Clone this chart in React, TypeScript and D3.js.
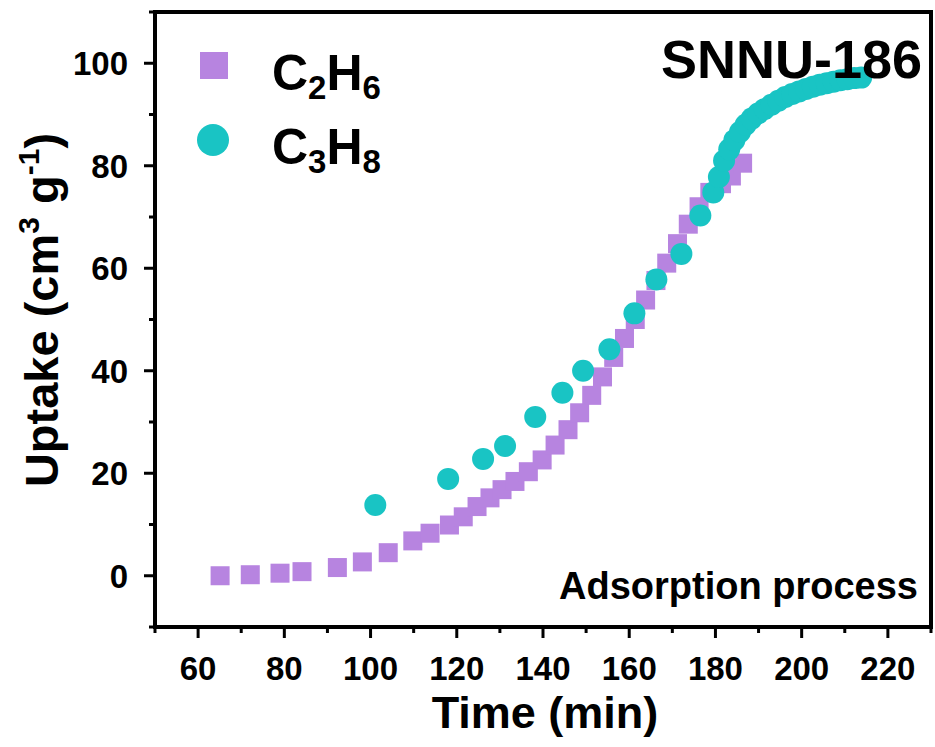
import React from "react";
import * as d3 from "d3";

// Adsorption uptake vs. time for SNNU-186
const c2h6Time = [65.1, 72.1, 79.0, 84.1, 92.3, 98.1, 104.1, 109.8, 113.8, 118.3, 121.5, 124.7, 127.7, 130.5, 133.5, 136.6, 139.8, 142.8, 145.8, 148.5, 151.3, 153.8, 156.4, 158.9, 161.4, 163.8, 166.2, 168.7, 171.2, 173.7, 176.2, 178.7, 181.4, 183.7, 186.3];
const c2h6Uptake = [0.0, 0.2, 0.5, 0.8, 1.6, 2.7, 4.5, 6.8, 8.3, 9.9, 11.5, 13.5, 15.2, 16.8, 18.4, 20.3, 22.6, 25.5, 28.5, 31.8, 35.2, 38.8, 42.6, 46.3, 50.0, 53.8, 57.6, 61.0, 64.8, 68.6, 72.0, 74.8, 76.5, 78.0, 80.5];

const c3h8Time = [101.1, 118.0, 126.1, 131.2, 138.2, 144.5, 149.3, 155.4, 161.2, 166.3, 172.1, 176.5, 179.5, 180.8, 182.0, 183.2, 184.4, 185.7, 187.0, 188.4, 189.9, 191.4, 193.0, 194.6, 196.2, 197.8, 199.4, 201.0, 202.6, 204.2, 205.8, 207.4, 209.0, 210.6, 212.2, 213.8];
const c3h8Uptake = [13.8, 18.9, 22.8, 25.3, 31.0, 35.7, 40.0, 44.2, 51.2, 57.8, 62.8, 70.3, 74.8, 77.8, 81.0, 83.2, 85.0, 86.6, 88.0, 89.2, 90.2, 91.1, 91.9, 92.7, 93.4, 94.0, 94.5, 95.0, 95.4, 95.8, 96.1, 96.4, 96.7, 96.9, 97.1, 97.2];

const xTicks = [60, 80, 100, 120, 140, 160, 180, 200, 220];
const yTicks = [0, 20, 40, 60, 80, 100];

const PURPLE = "#b784e0";
const CYAN = "#19c4c4";
const FONT = "'Liberation Sans', Arial, sans-serif";

export default function App() {
  const W = 935;
  const H = 747;
  const left = 155;
  const right = 931;
  const top = 12;
  const bottom = 627;

  const x = d3.scaleLinear().domain([50, 230]).range([left, right]);
  const y = d3.scaleLinear().domain([-10, 110]).range([bottom, top]);

  const xMinor = d3.range(50, 231, 10).filter((v) => !xTicks.includes(v));
  const yMinor = d3.range(-10, 111, 10).filter((v) => !yTicks.includes(v));

  const sq = 19;
  const r = 11;

  return (
    <svg
      width={W}
      height={H}
      style={{ position: "absolute", left: 0, top: 0, background: "#fff" }}
      fontFamily={FONT}
      fontWeight="bold"
    >
      {/* C2H6 squares */}
      <g fill={PURPLE}>
        {c2h6Time.map((t, i) => (
          <rect key={i} x={x(t) - sq / 2} y={y(c2h6Uptake[i]) - sq / 2} width={sq} height={sq} />
        ))}
      </g>
      {/* C3H8 circles */}
      <g fill={CYAN}>
        {c3h8Time.map((t, i) => (
          <circle key={i} cx={x(t)} cy={y(c3h8Uptake[i])} r={r} />
        ))}
      </g>

      {/* frame */}
      <rect x={left} y={top} width={right - left} height={bottom - top} fill="none" stroke="#000" strokeWidth={4} />

      {/* ticks */}
      <g stroke="#000" strokeWidth={3}>
        {xTicks.map((v) => (
          <line key={v} x1={x(v)} x2={x(v)} y1={bottom} y2={bottom + 11} />
        ))}
        {xMinor.map((v) => (
          <line key={v} x1={x(v)} x2={x(v)} y1={bottom} y2={bottom + 6} />
        ))}
        {yTicks.map((v) => (
          <line key={v} x1={left} x2={left - 11} y1={y(v)} y2={y(v)} />
        ))}
        {yMinor.map((v) => (
          <line key={v} x1={left} x2={left - 6} y1={y(v)} y2={y(v)} />
        ))}
      </g>

      {/* tick labels */}
      <g fontSize={33} fill="#000">
        {xTicks.map((v) => (
          <text key={v} x={x(v)} y={680} textAnchor="middle">
            {v}
          </text>
        ))}
        {yTicks.map((v) => (
          <text key={v} x={128} y={y(v) + 12} textAnchor="end">
            {v}
          </text>
        ))}
      </g>

      {/* axis titles */}
      <text x={(left + right) / 2 + 2} y={728} textAnchor="middle" fontSize={45}>
        Time (min)
      </text>
      <text transform="translate(58,310) rotate(-90)" textAnchor="middle" fontSize={47}>
        Uptake (cm
        <tspan fontSize={30} dy={-19}>3</tspan>
        <tspan dy={19}> g</tspan>
        <tspan fontSize={30} dy={-19}>-1</tspan>
        <tspan dy={19}>)</tspan>
      </text>

      {/* legend */}
      <rect x={200} y={52} width={28} height={27} fill={PURPLE} />
      <text x={272} y={90} fontSize={50}>
        C<tspan fontSize={33} dy={9}>2</tspan>
        <tspan dy={-9}>H</tspan>
        <tspan fontSize={33} dy={9}>6</tspan>
      </text>
      <circle cx={213} cy={140} r={16} fill={CYAN} />
      <text x={272} y={164} fontSize={50}>
        C<tspan fontSize={33} dy={9}>3</tspan>
        <tspan dy={-9}>H</tspan>
        <tspan fontSize={33} dy={9}>8</tspan>
      </text>

      {/* annotations */}
      <text x={922} y={78} textAnchor="end" fontSize={54}>
        SNNU-186
      </text>
      <text x={918} y={599} textAnchor="end" fontSize={38}>
        Adsorption process
      </text>
    </svg>
  );
}
